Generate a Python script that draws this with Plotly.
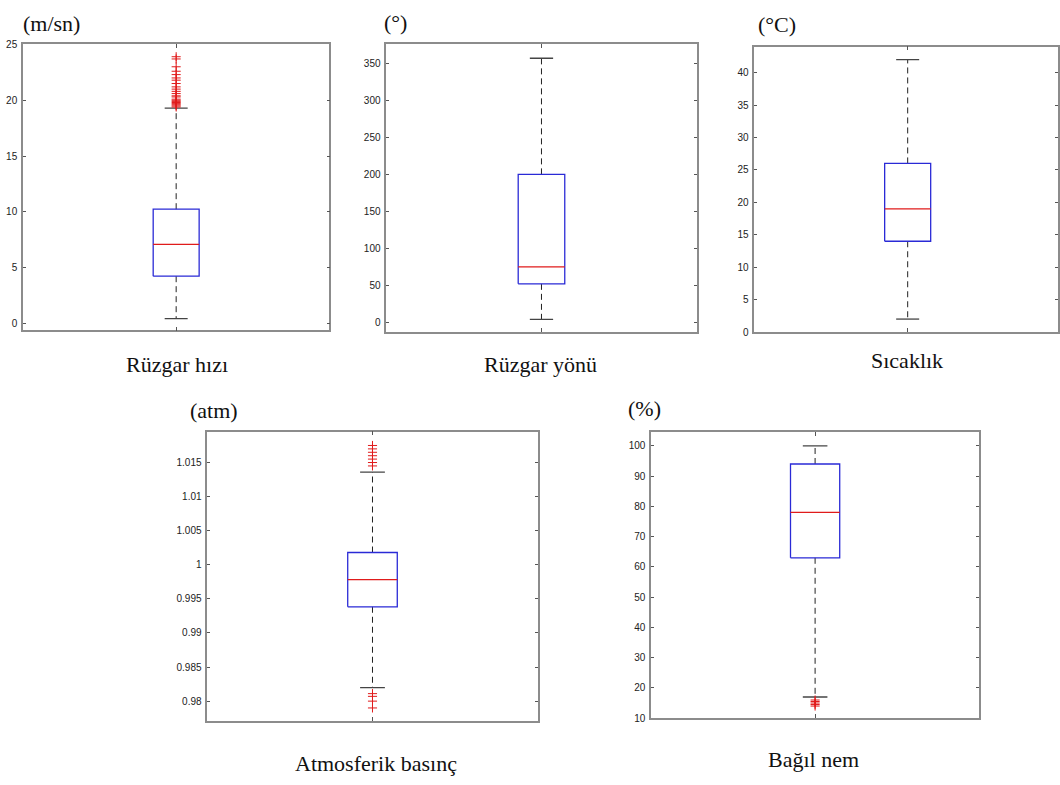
import plotly.graph_objects as go

# ---------------- data ----------------
names = ["Rüzgar hızı", "Rüzgar yönü", "Sıcaklık", "Atmosferik basınç", "Bağıl nem"]
units = ["(m/sn)", "(°)", "(°C)", "(atm)", "(%)"]

q1 = [4.25, 52, 14, 0.99384, 63]
median = [7.1, 75, 19, 0.99783, 78]
q3 = [10.25, 200, 26, 1.0018, 94]
lower_whisker = [0.45, 4, 2, 0.98198, 17]
upper_whisker = [19.3, 357, 42, 1.0136, 100]

outliers_wind_speed = [23.9, 23.7, 23.0, 22.6, 22.3, 22.0, 21.8, 21.5, 21.2, 21.0,
                       20.8, 20.6, 20.4, 20.3, 20.1, 20.0, 19.9, 19.8, 19.7, 19.6,
                       19.5, 19.4]
outliers_wind_dir = []
outliers_temp = []
outliers_pressure = [1.0175, 1.0170, 1.0165, 1.0160, 1.0155, 1.0150, 1.0145,
                     0.9811, 0.9807, 0.9800, 0.9790]
outliers_humidity = [16.0, 15.5, 15.0, 14.5, 14.0]
outliers = [outliers_wind_speed, outliers_wind_dir, outliers_temp,
            outliers_pressure, outliers_humidity]

tick_wind_speed = [0, 5, 10, 15, 20, 25]
tick_wind_dir = [0, 50, 100, 150, 200, 250, 300, 350]
tick_temp = [0, 5, 10, 15, 20, 25, 30, 35, 40]
tick_pressure = [0.98, 0.985, 0.99, 0.995, 1.0, 1.005, 1.01, 1.015]
tick_pressure_text = ["0.98", "0.985", "0.99", "0.995", "1", "1.005", "1.01", "1.015"]
tick_humidity = [10, 20, 30, 40, 50, 60, 70, 80, 90, 100]
ticks = [tick_wind_speed, tick_wind_dir, tick_temp, tick_pressure, tick_humidity]
tick_texts = [[str(v) for v in tick_wind_speed], [str(v) for v in tick_wind_dir],
              [str(v) for v in tick_temp], tick_pressure_text,
              [str(v) for v in tick_humidity]]

# ---------------- layout / style ----------------
W, H = 1060, 785
# panel boxes in pixels: (left, top, right, bottom)
panels_px = [(23, 40, 330, 330), (387, 40, 698, 331.7), (755.7, 42.3, 1060, 331.7),
             (207.7, 432.7, 538.7, 726), (652.3, 433.3, 981, 723.3)]
y_ranges = [[-0.6, 25], [-13.2, 375.7], [0, 44], [0.97711, 1.01953], [10, 104.5]]
x_ranges = [[0.5, 1.5], [0.5, 1.5], [0.5, 1.49], [0.5, 1.5], [0.5, 1.5]]
unit_pos = [(20.7, 19), (382.7, 18), (757, 20), (188, 411), (627, 409)]
label_pos = [(177, 365), (542, 365), (909, 361), (376.5, 769), (815, 765)]

BOX_HALF = 0.075
CAP_HALF = 0.0375
BLUE = "#2a2ad6"
RED = "#e01b1b"
FRAME = "#8c8c8c"

fig = go.Figure()
layout = dict(width=W, height=H, margin=dict(l=0, r=0, t=0, b=0),
              paper_bgcolor="white", plot_bgcolor="white", showlegend=False,
              hovermode=False, annotations=[])

for i in range(5):
    k = "" if i == 0 else str(i + 1)
    xa, ya = "x" + k, "y" + k
    L, T, R, B = panels_px[i]
    c = 1.0
    # whiskers (dashed)
    fig.add_trace(go.Scatter(x=[c, c, None, c, c],
                             y=[q3[i], upper_whisker[i], None, q1[i], lower_whisker[i]],
                             mode="lines", line=dict(color="#222222", width=1, dash="6px,4px"),
                             xaxis=xa, yaxis=ya))
    # caps
    fig.add_trace(go.Scatter(x=[c - CAP_HALF, c + CAP_HALF, None, c - CAP_HALF, c + CAP_HALF],
                             y=[upper_whisker[i], upper_whisker[i], None,
                                lower_whisker[i], lower_whisker[i]],
                             mode="lines", line=dict(color="#444444", width=1.3),
                             xaxis=xa, yaxis=ya))
    # box
    fig.add_trace(go.Scatter(x=[c - BOX_HALF, c + BOX_HALF, c + BOX_HALF, c - BOX_HALF, c - BOX_HALF],
                             y=[q1[i], q1[i], q3[i], q3[i], q1[i]],
                             mode="lines", line=dict(color=BLUE, width=1.3),
                             xaxis=xa, yaxis=ya))
    # median
    fig.add_trace(go.Scatter(x=[c - BOX_HALF, c + BOX_HALF], y=[median[i], median[i]],
                             mode="lines", line=dict(color=RED, width=1.3),
                             xaxis=xa, yaxis=ya))
    # outliers
    if outliers[i]:
        fig.add_trace(go.Scatter(x=[c] * len(outliers[i]), y=outliers[i], mode="markers",
                                 marker=dict(symbol="cross-thin", size=6.5,
                                             line=dict(color=RED, width=1)),
                                 xaxis=xa, yaxis=ya))

    layout["xaxis" + k] = dict(domain=[L / W, R / W], range=x_ranges[i], anchor=ya,
                               showgrid=False, zeroline=False, showline=True,
                               linecolor=FRAME, linewidth=1.5, mirror="ticks",
                               ticks="inside", ticklen=4, tickcolor="#555555",
                               tickvals=[1], showticklabels=False, fixedrange=True)
    layout["yaxis" + k] = dict(domain=[1 - B / H, 1 - T / H], range=y_ranges[i], anchor=xa,
                               showgrid=False, zeroline=False, showline=True,
                               linecolor=FRAME, linewidth=1.5, mirror="ticks",
                               ticks="inside", ticklen=3, tickcolor="#555555",
                               tickvals=ticks[i], ticktext=tick_texts[i],
                               tickfont=dict(family="Liberation Sans, Arial", size=10,
                                             color="#222222"),
                               ticklabelstandoff=2, fixedrange=True)

    ux, uy = unit_pos[i]
    layout["annotations"].append(dict(text=units[i], xref="paper", yref="paper",
                                      x=ux / W, y=1 - uy / H, xanchor="left", yanchor="middle",
                                      showarrow=False,
                                      font=dict(family="Liberation Serif, Times New Roman",
                                                size=22, color="#111111")))
    lx, ly = label_pos[i]
    layout["annotations"].append(dict(text=names[i], xref="paper", yref="paper",
                                      x=lx / W, y=1 - ly / H, xanchor="center", yanchor="middle",
                                      showarrow=False,
                                      font=dict(family="Liberation Serif, Times New Roman",
                                                size=22, color="#111111")))

fig.update_layout(**layout)
fig.write_html("out.html")
